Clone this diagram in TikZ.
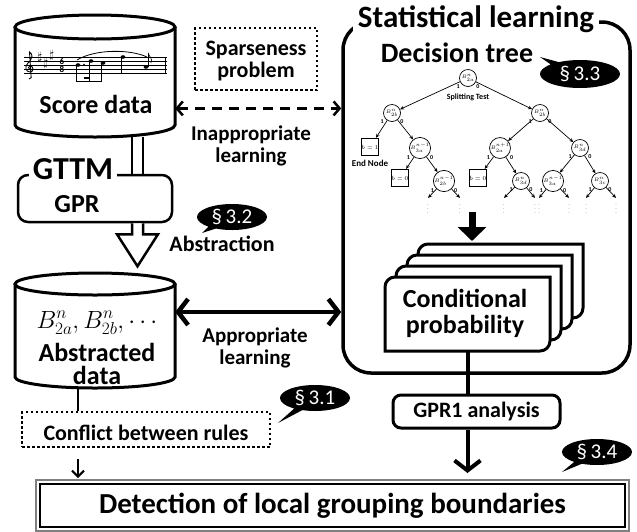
\documentclass[tikz,border=0pt]{standalone}
\usepackage{fontspec}
\setmainfont{Carlito}
\usetikzlibrary{arrows.meta,shapes.callouts}

\newcommand{\fsz}[1]{\fontsize{#1}{#1}\selectfont}

\tikzset{
  lbl/.style={font=\fontsize{21}{22}\selectfont\bfseries, align=center, inner sep=0pt},
  big/.style={font=\fontsize{26}{23}\selectfont\bfseries, align=center, inner sep=0pt},
  cyl/.style={line width=3pt, fill=white},
  rbox/.style={draw, line width=2.5pt, rounded corners=10pt, fill=white},
  dotbox/.style={draw, line width=2.5pt, dash pattern=on 2.5pt off 2.5pt},
  sect/.style={ellipse callout, fill=black, text=white, inner sep=0pt,
    minimum width=70pt, minimum height=26pt, font=\fsz{21}},
  split/.style={circle, draw, line width=.7pt, minimum size=17pt, inner sep=0pt, font=\fsz{5},
    label={[tlab]215:1}, label={[tlab]-35:0}},
  endn/.style={draw, line width=1.3pt, minimum width=16pt, minimum height=17pt, inner sep=0pt, font=\fsz{6}},
  tlab/.style={font=\fsz{6}\bfseries, inner sep=1pt},
  tedge/.style={line width=.7pt, -{Stealth[length=4pt,width=3.5pt]}},
  more/.style={text=gray, font=\fsz{6}, inner sep=.5pt},
  card/.style={line width=3pt, fill=white},
}

\begin{document}
\begin{tikzpicture}[x=1pt,y=1pt]
  \useasboundingbox (0,0) rectangle (637,-531);

  % score data
  \node[minimum width=160pt, minimum height=122pt] (score) at (95,-76) {};
  \draw[cyl] (15,-27) -- (15,-125) arc[start angle=180, end angle=360, x radius=80, y radius=12] -- (175,-27);
  \draw[cyl] (95,-27) ellipse [x radius=80, y radius=12];
  \node[big, anchor=base] (scoretxt) at (96,-113) {Score data};

  % the little score
  \begin{scope}[line width=.6pt]
    \foreach \y in {57,61,65,69,73}
      \draw (24,-\y) -- (167,-\y);
    \draw (165,-57) -- (165,-73);
    \draw[line width=.9pt] (29,-79) .. controls (31,-79) and (32,-77) .. (31,-75) -- (29.5,-52)
      .. controls (33,-54) and (33,-58) .. (28,-63) .. controls (24,-67) and (26,-72) .. (30,-72)
      .. controls (34,-72) and (34,-66) .. (30,-66) .. controls (28,-66) and (28,-69) .. (29.5,-69);
    \node[font=\fsz{12}, inner sep=0pt] (sh1) at (40,-57) {$\sharp$};
    \node[font=\fsz{12}, inner sep=0pt] (sh2) at (46,-63) {$\sharp$};
    \node[font=\fsz{12}, inner sep=0pt] (sh3) at (52,-55) {$\sharp$};
    \node[font=\fsz{9}\bfseries, inner sep=0pt] (ts6) at (62,-61) {6};
    \node[font=\fsz{9}\bfseries, inner sep=0pt] (ts8) at (62,-69) {8};
    \fill (78,-65) ellipse [x radius=2.4, y radius=1.8];
    \fill (84,-64.5) circle (.8);
    \fill (91,-61) ellipse [x radius=2.4, y radius=1.8];
    \fill (103,-63) ellipse [x radius=2.4, y radius=1.8];
    \draw (75.8,-65) -- (75.8,-82) (88.8,-61) -- (88.8,-82) (100.8,-63) -- (100.8,-82);
    \draw[line width=1.8pt] (75.8,-81.5) -- (100.8,-81.5);
    \draw[line width=1.6pt] (88.8,-78) -- (84,-78);
    \fill (123,-57) ellipse [x radius=2.4, y radius=1.8];
    \draw (120.8,-57) -- (120.8,-73);
    \fill (146,-67) ellipse [x radius=2.4, y radius=1.8];
    \draw (148.2,-67) -- (148.2,-53);
    \draw (148.2,-53) .. controls (149,-57) and (153,-58) .. (151,-63);
    \draw[line width=.8pt] (77,-60) .. controls (95,-49) and (130,-49) .. (147,-57);
  \end{scope}

  % sparseness
  \node[dotbox, minimum width=122pt, minimum height=62pt] (sparse) at (256,-59) {};
  \node[lbl, anchor=base, font=\fontsize{22}{22}\selectfont\bfseries] (sparsetxt) at (256,-77) {Sparseness\\problem};

  % GTTM / GPR
  \draw[line width=2.5pt, double distance=8.5pt] ([xshift=42.5pt]score.south) -- ++(0,-40);
  \node[rbox, minimum width=154pt, minimum height=47pt] (gttm) at (95,-198.5) {};
  \node[fill=white, inner xsep=4pt, inner ysep=1pt, anchor=base, font=\fsz{32}\bfseries] (gttmlbl) at (73,-179) {GTTM};
  \node[big, anchor=base] (gpr) at (77,-212) {GPR};
  \draw[line width=2.5pt, fill=white] ([xshift=37pt]gttm.south) -- ++(0,-11) -- ++(-15,0) -- ++(20.5,-32)
    -- ++(20.5,32) -- ++(-15,0) -- ++(0,11);
  \node[lbl, anchor=base, font=\fsz{22}\bfseries] (abstr) at (222,-251) {Abstraction};
  \node[sect, callout absolute pointer={(202,-233)}] (s32) at (232,-217) {\S\,3.2};

  % abstracted data
  \node[minimum width=160pt, minimum height=115pt] (abs) at (95,-330.5) {};
  \draw[cyl] (15,-284) -- (15,-377) arc[start angle=180, end angle=360, x radius=80, y radius=11] -- (175,-284);
  \draw[cyl] (95,-284) ellipse [x radius=80, y radius=11];
  \node[anchor=base, font=\fsz{24}, inner sep=0pt] (bvars) at (97,-328) {$B^n_{2a},B^n_{2b},\cdots$};
  \node[big, anchor=base] (abstxt) at (97,-384) {Abstracted\\data};

  % conflict
  \node[dotbox, minimum width=248pt, minimum height=35pt] (confl) at (146,-429.5) {};
  \node[lbl, anchor=base, font=\fsz{22}\bfseries] (confltxt) at (146,-440) {Conflict between rules};
  \coordinate (abot) at ([xshift=-17pt]abs.south);
  \draw[line width=2.5pt] (abot) -- (abot |- confl.north);
  \node[sect, callout absolute pointer={(278,-423)}] (s31) at (315,-398) {\S\,3.1};

  % statistical learning
  \node[draw, line width=3.5pt, rounded corners=28pt, minimum width=287pt, minimum height=351pt] (stat) at (486.5,-197.5) {};
  \node[fill=white, inner xsep=5pt, inner ysep=2pt, anchor=base, font=\fsz{31}\bfseries] (stitle) at (476,-27) {Statistical learning};
  \node[anchor=base, font=\fsz{28}\bfseries, inner sep=0pt] (dtree) at (457,-62) {Decision tree};
  \node[sect, minimum width=80pt, minimum height=28pt, callout absolute pointer={(540,-57)}] (s33) at (580,-74) {\S\,3.3};

  % decision tree
  \node[split] (t0) at (468,-78) {$B^n_{2a}$};
  \node[split] (t1) at (392,-113) {$B^n_{2b}$};
  \node[split] (t2) at (540,-113) {$B^n_{2b}$};
  \node[endn] (t3) at (370,-147) {$b=1$};
  \node[split] (t4) at (420,-148) {$B^{n-1}_{3a}$};
  \node[split] (t5) at (500,-148) {$B^{n+1}_{2a}$};
  \node[split] (t6) at (580,-148) {$B^n_{3d}$};
  \node[endn] (t7) at (400,-178) {$b=0$};
  \node[split] (t8) at (444,-181) {$B^{n-1}_{2b}$};
  \node[endn] (t9) at (478,-178) {$b=0$};
  \node[split] (t10) at (521,-181) {$B^n_{3d}$};
  \node[split] (t11) at (553,-181) {$B^{n-1}_{3a}$};
  \node[split] (t12) at (600,-181) {$B^n_{3c}$};
  \node[font=\fsz{8}\bfseries, inner sep=0pt] (split) at (468,-97) {Splitting Test};
  \node[font=\fsz{9}\bfseries, inner sep=0pt] (endnode) at (370,-163) {End Node};

  \foreach \p/\c in {t0/t1,t0/t2,t1/t3,t1/t4,t2/t5,t2/t6,t4/t7,t4/t8,t5/t9,t5/t10,t6/t11,t6/t12}
    \draw[tedge] (\p) -- (\c);
  \foreach \p/\n/\x in {t8/m1/428,t8/m2/460,t10/m3/504,t10/m4/535,t11/m5/539,t11/m6/569,t12/m7/586,t12/m8/616} {
    \node[more] (\n) at (\x,-206) {$\vdots$};
    \draw[tedge] (\p) -- (\n.north);
  }

  % conditional probability
  \coordinate (treebot) at (472,-212);
  \coordinate (cardtop) at (472,-241);
  \draw[line width=7pt, -{Triangle[length=14pt,width=28pt]}] (treebot) -- (cardtop);
  \foreach \k in {3,2,1}
    \draw[card, shift={(11*\k,11*\k)}] (385,-351) -- (385,-287) arc[start angle=180, end angle=90, radius=10]
      -- (550,-277) -- (550,-341) arc[start angle=0, end angle=-90, radius=10] -- cycle;
  \draw[card] (385,-351) -- (385,-287) arc[start angle=180, end angle=90, radius=10]
    -- (550,-277) -- (550,-341) arc[start angle=0, end angle=-90, radius=10] -- cycle;
  \node[minimum width=165pt, minimum height=74pt] (cond) at (467.5,-314) {};
  \node[big, anchor=base, font=\fontsize{26}{26}\selectfont\bfseries] (condtxt) at (465,-333) {Conditional\\probability};

  % appropriate / inappropriate learning
  \draw[line width=2.5pt, dash pattern=on 10pt off 7pt,
    {Straight Barb[length=6pt,width=14pt]}-{Straight Barb[length=6pt,width=14pt]}]
    (score.-22) -- (stat.west |- score.-22);
  \node[lbl, anchor=base] (inap) at (251,-162) {Inappropriate\\learning};
  \draw[line width=4.5pt, {Straight Barb[length=10pt,width=26pt]}-{Straight Barb[length=10pt,width=26pt]}]
    (abs.13) -- (stat.west |- abs.13);
  \node[lbl, anchor=base] (appr) at (255,-364) {Appropriate\\learning};

  % GPR1 analysis
  \node[rbox, line width=3pt, rounded corners=8pt, minimum width=167pt, minimum height=33pt,
    font=\fsz{22}\bfseries] (gpr1) at (476.5,-411.5) {GPR1 analysis};
  \draw[line width=4pt] (cond.south) -- (cond.south |- gpr1.north);

  % detection
  \node[draw, line width=2pt, minimum width=585pt, minimum height=43pt, font=\fsz{29}\bfseries]
    (det) at (332.5,-505.5) {Detection of local grouping boundaries};
  \draw[gray, line width=1.2pt] ([shift={(-3,3)}]det.north west) rectangle ([shift={(3,-3)}]det.south east);
  \draw[line width=4pt, shorten >=10pt, -{Straight Barb[length=10pt,width=26pt]}]
    (cond.south |- gpr1.south) -- (cond.south |- det.north);
  \draw[line width=2pt, shorten <=11pt, shorten >=5pt, -{Straight Barb[length=6pt,width=12pt]}]
    (abot |- confl.south) -- (abot |- det.north);
  \node[sect, callout absolute pointer={(562,-472)}] (s34) at (597,-452) {\S\,3.4};
\end{tikzpicture}
\end{document}
